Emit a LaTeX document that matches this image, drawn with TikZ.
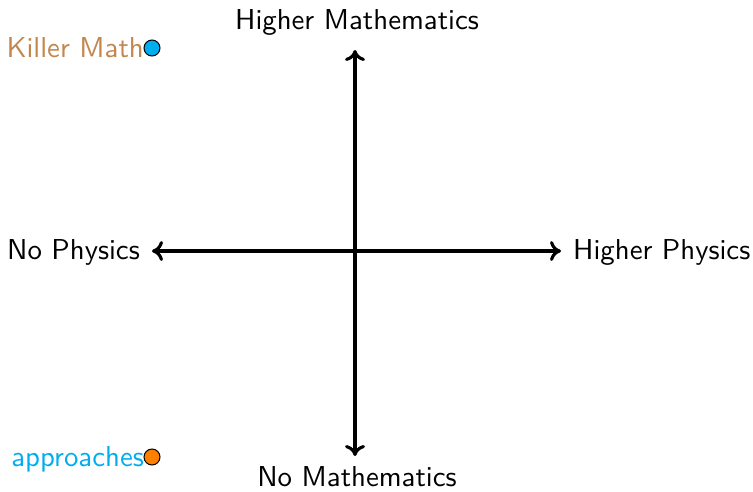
\documentclass[tikz,border=0pt]{standalone}
\usepackage{fontspec}
\usetikzlibrary{arrows.meta}
\newfontfamily\lmsten{lmsans10-regular.otf}
\definecolor{mycyan}{RGB}{0,174,239}
\definecolor{mybrown}{RGB}{195,134,77}
\definecolor{myorange}{RGB}{255,128,0}
\begin{document}
\begin{tikzpicture}[x=1pt,y=-1pt,
  lbl/.style={font=\lmsten\fontsize{28.8}{34}\selectfont, inner sep=0pt},
  axis/.style={line width=3.1pt, -{Computer Modern Rightarrow[length=11pt,width=20pt]}},
  dot/.style={circle, draw=black, line width=1pt, minimum size=16pt, inner sep=0pt}]
\useasboundingbox (0,0) rectangle (753,491);
\coordinate (c) at (355,251);
\coordinate (l) at (152,251);
\coordinate (r) at (561,251);
\coordinate (t) at (355,50);
\coordinate (b) at (355,456);
\draw[axis] (c) -- (l);
\draw[axis] (c) -- (r);
\draw[axis] (c) -- (t);
\draw[axis] (c) -- (b);
\node[lbl, anchor=base east] (np) at (140,259) {No Physics};
\node[lbl, anchor=base west] (hp) at (573,259) {Higher Physics};
\node[lbl, anchor=base] (hm) at (357,29) {Higher Mathematics};
\node[lbl, anchor=base] (nm) at (357,486) {No Mathematics};
\node[dot, fill=mycyan] (d1) at (152,48) {};
\node[lbl, anchor=base east, text=mybrown] (km) at (144,57) {Killer Math};
\node[dot, fill=myorange] (d2) at (152,457) {};
\node[lbl, anchor=base east, text=mycyan] (ap) at (144,466) {approaches};
\end{tikzpicture}
\end{document}
